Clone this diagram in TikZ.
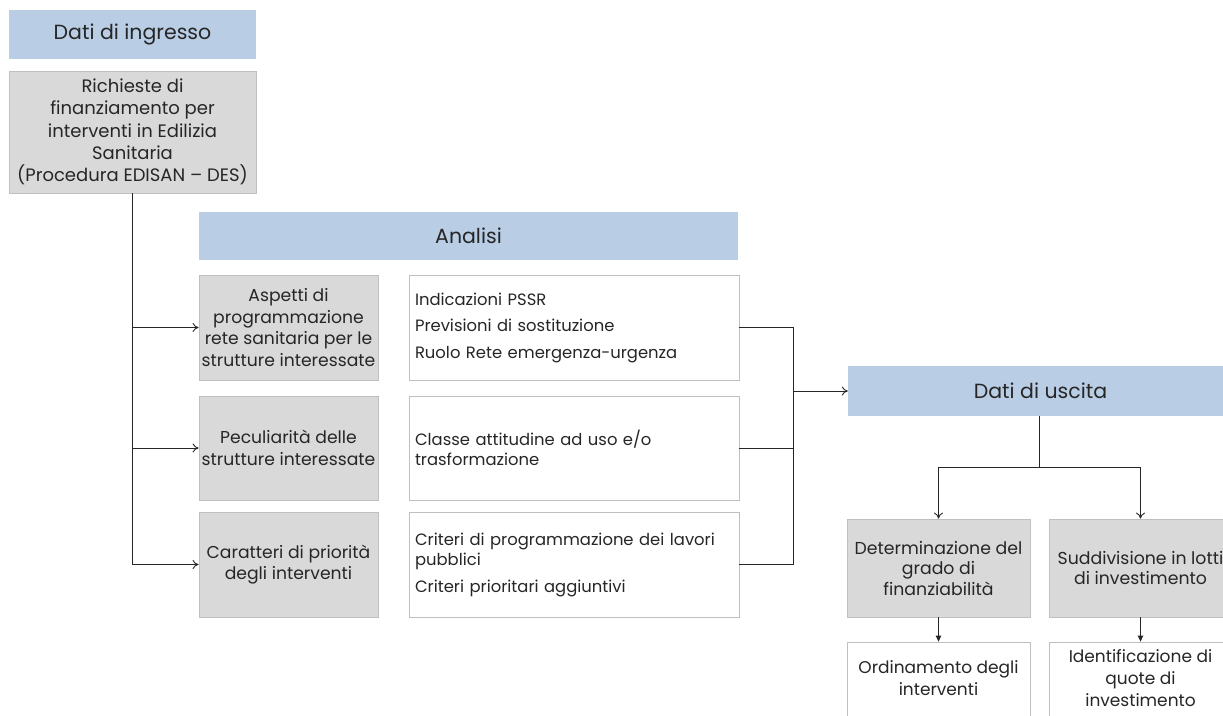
\documentclass[tikz,border=0pt]{standalone}
\usepackage{fontspec}
\setmainfont{Poppins}
\usetikzlibrary{arrows.meta}
\definecolor{tblue}{HTML}{B9CDE5}
\definecolor{gfill}{HTML}{D9D9D9}
\definecolor{gline}{HTML}{BFBFBF}
\definecolor{conn}{HTML}{262626}
\definecolor{ink}{HTML}{262626}
\tikzset{
  x=1pt, y=-1pt,
  titlebox/.style={fill=tblue, draw=none, inner sep=0pt, font=\fontsize{20.5}{24}\selectfont, text=ink},
  graybox/.style={fill=gfill, draw=gline, line width=0.8pt, inner sep=0pt, align=center, font=\fontsize{17.2}{21.5}\selectfont, text=ink},
  whitebox/.style={fill=white, draw=gline, line width=0.8pt, inner sep=0pt},
  listtext/.style={align=left, text width=318pt, inner sep=0pt, font=\fontsize{16.4}{20.5}\selectfont, text=ink},
  outtext/.style={font=\fontsize{17.3}{20.5}\selectfont},
  restext/.style={align=center, font=\fontsize{17}{22}\selectfont, text=ink},
  conline/.style={draw=conn, line width=0.9pt},
  openarrow/.style={conline, -{To[length=6pt, width=9pt]}},
  filledarrow/.style={conline, -{Triangle[length=6pt, width=5.5pt]}}
}
\begin{document}
\begin{tikzpicture}
\useasboundingbox (0,0) rectangle (1223,715);
\clip (0,0) rectangle (1223,715);
% input side
\node[titlebox, minimum width=247pt, minimum height=49pt] (din) at (132.5,34.5) {Dati di ingresso};
\node[graybox, minimum width=247pt, minimum height=122pt, font=\fontsize{18}{22.2}\selectfont] (ric) at (132.5,132)
  {Richieste di\\finanziamento per\\interventi in Edilizia\\Sanitaria\\(Procedura EDISAN – DES)};
% analysis
\node[titlebox, minimum width=539pt, minimum height=48pt] (ana) at (468.5,236) {Analisi};
\node[graybox, minimum width=179pt, minimum height=105pt] (g1) at (288.5,327.5)
  {Aspetti di\\programmazione\\rete sanitaria per le\\strutture interessate};
\node[whitebox, minimum width=330pt, minimum height=105pt] (w1) at (574,327.5) {};
\node[listtext] (t1) at (w1.center) {Indicazioni PSSR\\[6pt]Previsioni di sostituzione\\[6pt]Ruolo Rete emergenza-urgenza};
\node[graybox, minimum width=179pt, minimum height=104pt] (g2) at (288.5,448)
  {Peculiarità delle\\strutture interessate};
\node[whitebox, minimum width=330pt, minimum height=104pt] (w2) at (574,448) {};
\node[listtext] (t2) at (w2.center) {Classe attitudine ad uso e/o\\trasformazione};
\node[graybox, minimum width=179pt, minimum height=105pt] (g3) at (288.5,564.5)
  {Caratteri di priorità\\degli interventi};
\node[whitebox, minimum width=330pt, minimum height=105pt] (w3) at (574,564.5) {};
\node[listtext] (t3) at (w3.center) {Criteri di programmazione dei lavori\\pubblici\\[6pt]Criteri prioritari aggiuntivi};
% output side
\node[titlebox, minimum width=385pt, minimum height=50pt] (out) at (1040.5,391) {Dati di uscita};
\node[graybox, outtext, minimum width=183pt, minimum height=98pt] (o1) at (938.5,568)
  {Determinazione del\\grado di\\finanziabilità};
\node[graybox, outtext, minimum width=183pt, minimum height=98pt] (o2) at (1140.5,568)
  {Suddivisione in lotti\\di investimento};
\node[whitebox, minimum width=183pt, minimum height=76pt] (r1) at (938.5,680) {};
\node[restext] (rt1) at (938.5,678) {Ordinamento degli\\interventi};
\node[whitebox, minimum width=183pt, minimum height=76pt] (r2) at (1140.5,680) {};
\node[restext] (rt2) at (1140.5,678) {Identificazione di\\quote di\\investimento};
% connectors: input to analysis
\draw[conline] (ric.south) -- (ric.south |- g3.west);
\draw[openarrow] (ric.south |- g1.west) -- (g1.west);
\draw[openarrow] (ric.south |- g2.west) -- (g2.west);
\draw[openarrow] (ric.south |- g3.west) -- (g3.west);
% analysis to output
\coordinate (jx) at (793,0);
\draw[conline] (w1.east) -- (w1.east -| jx) -- (w3.east -| jx) -- (w3.east);
\draw[conline] (w2.east) -- (w2.east -| jx);
\draw[openarrow] (out.west -| jx) -- (out.west);
% output split
\coordinate (split) at (1039,467);
\draw[conline] (out.south -| split) -- (split);
\draw[conline] (o1.north |- split) -- (o2.north |- split);
\draw[openarrow] (o1.north |- split) -- (o1.north);
\draw[openarrow] (o2.north |- split) -- (o2.north);
\draw[filledarrow] (o1.south) -- (r1.north);
\draw[filledarrow] (o2.south) -- (r2.north);
\end{tikzpicture}
\end{document}
